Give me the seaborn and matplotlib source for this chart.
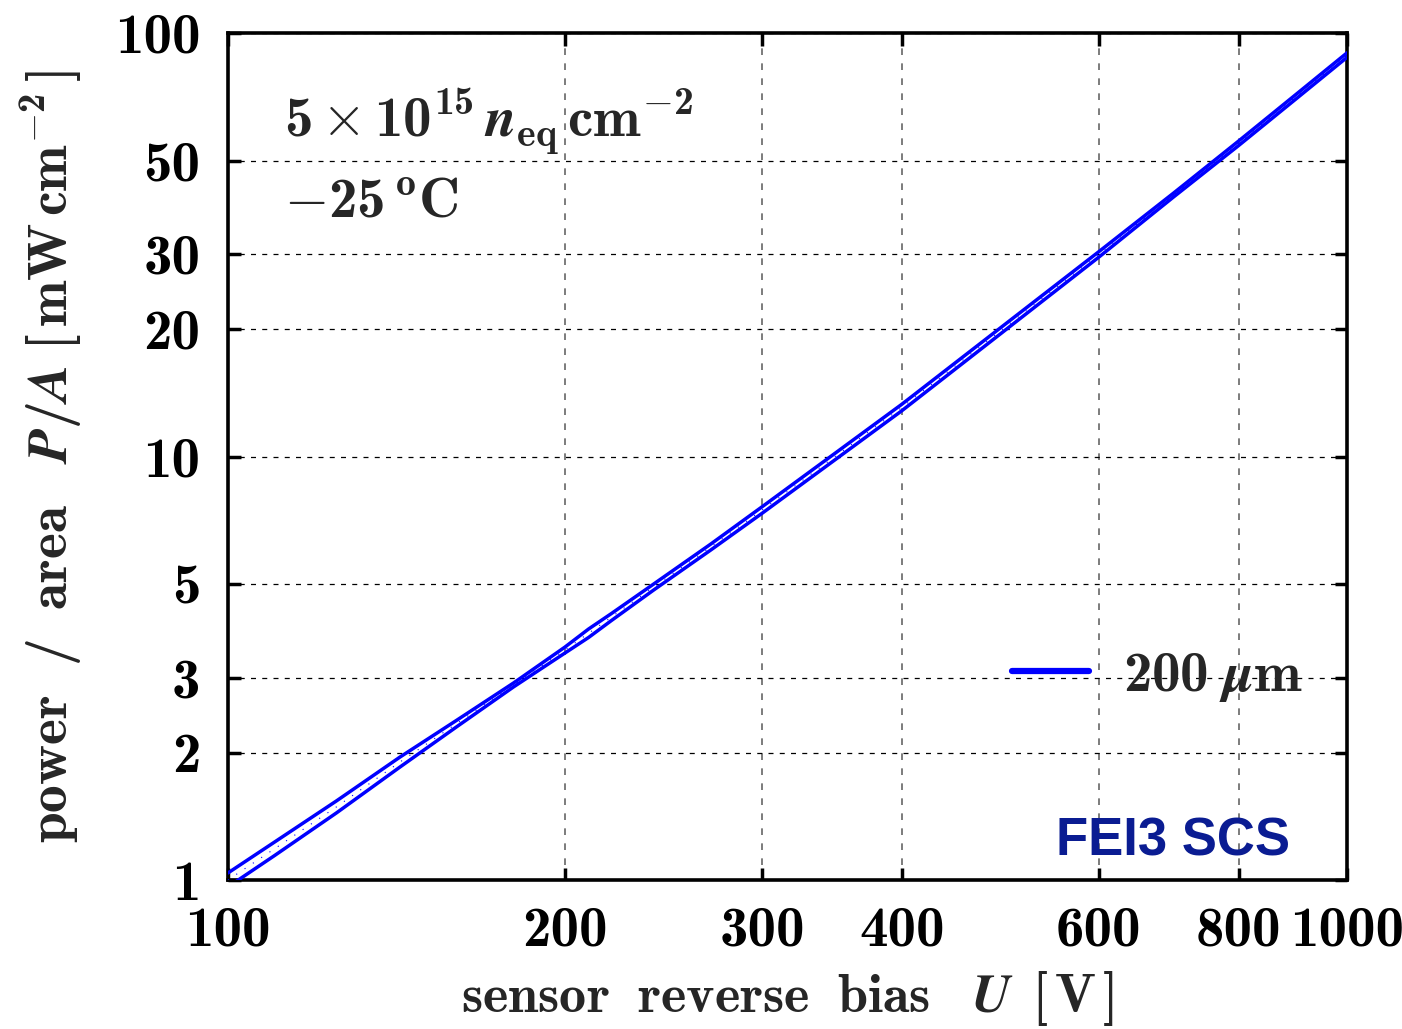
import matplotlib
matplotlib.use("Agg")
import matplotlib.pyplot as plt
import seaborn as sns
import pandas as pd
from matplotlib.lines import Line2D
from matplotlib.ticker import FixedLocator, FixedFormatter, NullLocator

# Power dissipation per area vs. reverse bias (band: low / central / high)
bias_v = [100, 110, 125, 142.5, 160, 180, 200, 210, 220, 240, 270,
          300, 350, 400, 500, 600, 700, 800, 900, 1000]
power_mid = [1.0, 1.184, 1.488, 1.90, 2.339, 2.889, 3.49, 3.825, 4.174, 4.914,
             6.111, 7.47, 10.07, 13.05, 20.63, 30.0, 41.47, 54.9, 70.7, 88.7]
power_high = [1.039, 1.228, 1.537, 1.952, 2.381, 2.920, 3.547, 3.914, 4.254, 4.995,
              6.211, 7.603, 10.25, 13.28, 20.97, 30.45, 41.91, 55.58, 71.57, 89.79]
power_low = [0.963, 1.141, 1.440, 1.849, 2.298, 2.858, 3.434, 3.738, 4.095, 4.835,
             6.013, 7.339, 9.894, 12.82, 20.30, 29.56, 41.03, 54.23, 69.84, 87.62]

x_ticks = [100, 200, 300, 400, 600, 800, 1000]
x_tick_labels = ["100", "200", "300", "400", "600", "800", "1000"]
y_ticks = [1, 2, 3, 5, 10, 20, 30, 50, 100]
y_tick_labels = ["1", "2", "3", "5", "10", "20", "30", "50", "100"]

legend_label = r"$\mathrm{200}\ \mathit{\mu}\mathrm{m}$"
fluence_text = r"$5\times10^{15}\,\mathit{n}_{\mathrm{eq}}\,\mathrm{cm}^{-2}$"
temp_text = r"$-25\,^{\mathrm{o}}\mathrm{C}$"
tag_text = "FEI3 SCS"

df = pd.DataFrame({"U": bias_v, "mid": power_mid, "high": power_high, "low": power_low})

sns.set_theme(style="ticks")
plt.rcParams.update({
    "mathtext.fontset": "custom",
    "mathtext.rm": "cmb10",
    "mathtext.bf": "cmb10",
    "mathtext.it": "STIXGeneral:italic:bold",
    "mathtext.default": "rm",
    "axes.unicode_minus": False,
})

BLUE = "#0000ff"
FS = 41
fig = plt.figure(figsize=(14.02, 10.29), dpi=100)
ax = fig.add_axes([0.1626, 0.1448, 0.7982, 0.8231])

sns.lineplot(data=df, x="U", y="high", ax=ax, color=BLUE, lw=2.5, sort=False,
             estimator=None, zorder=3)
sns.lineplot(data=df, x="U", y="low", ax=ax, color=BLUE, lw=2.5, sort=False,
             estimator=None, zorder=3)
sns.lineplot(data=df, x="U", y="mid", ax=ax, color=BLUE, lw=0.8, sort=False,
             estimator=None, linestyle=(0, (1, 8)), zorder=3)

ax.set_xscale("log")
ax.set_yscale("log")
ax.set_xlim(100, 1000)
ax.set_ylim(1, 100)

ax.xaxis.set_major_locator(FixedLocator(x_ticks))
ax.xaxis.set_major_formatter(FixedFormatter(x_tick_labels))
ax.xaxis.set_minor_locator(NullLocator())
ax.yaxis.set_major_locator(FixedLocator(y_ticks))
ax.yaxis.set_major_formatter(FixedFormatter(y_tick_labels))
ax.yaxis.set_minor_locator(NullLocator())

for lab in ax.get_xticklabels() + ax.get_yticklabels():
    lab.set_fontfamily("cmb10")
    lab.set_fontsize(FS)
    lab.set_color("black")

ax.tick_params(axis="both", which="major", direction="in", length=9, width=2.5,
               top=True, right=True, color="black")
ax.tick_params(axis="x", pad=19)
ax.tick_params(axis="y", pad=20)

ax.grid(True, axis="y", color="black", linestyle=(0, (4, 5)), lw=0.9)
ax.grid(True, axis="x", color="#666666", linestyle=(0, (4, 5)), lw=1.2)

for sp in ax.spines.values():
    sp.set_color("black")
    sp.set_linewidth(2.6)
    sp.set_visible(True)

ax.set_xlabel(r"$\mathrm{sensor\ \ reverse\ \ bias}\quad\mathit{U}\ \,[\,\mathrm{V}\,]$",
              fontsize=39, labelpad=9)
ax.set_ylabel(r"$\mathrm{power\ \ /\ \ area}\quad\mathit{P/A}\ [\,\mathrm{mW\,cm}^{-2}\,]$",
              fontsize=40, labelpad=22)

ax.text(0.05, 0.895, fluence_text, transform=ax.transAxes, fontsize=FS,
        ha="left", va="center")
ax.text(0.05, 0.80, temp_text, transform=ax.transAxes, fontsize=FS,
        ha="left", va="center")
ax.text(0.949, 0.0295, tag_text, transform=ax.transAxes, fontsize=38,
        fontfamily="Liberation Sans", fontweight="bold", color="#0a1c92",
        ha="right", va="baseline")

handle = Line2D([], [], color=BLUE, lw=4.5)
leg = ax.legend([handle], [legend_label], loc="center left",
                bbox_to_anchor=(0.7006, 0.241), frameon=False, fontsize=FS,
                handlelength=1.35, handletextpad=0.6, borderpad=0, borderaxespad=0)

fig.savefig("out.png", dpi=100)
